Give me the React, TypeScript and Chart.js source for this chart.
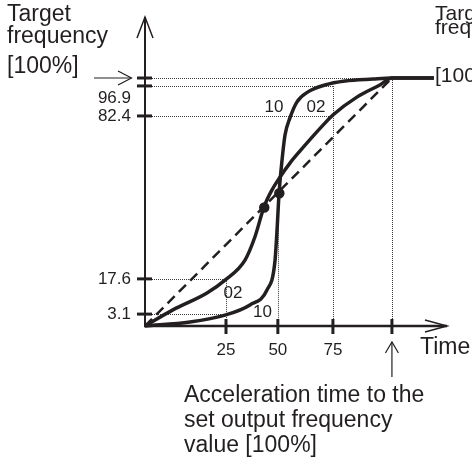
import React, { useEffect, useRef } from 'react';
import { Chart, registerables } from 'chart.js';

Chart.register(...registerables);

// ---- data (diagram coordinates: time % on x, frequency % on y) ----
const curve02X = [0, 11.3, 25.1, 32.4, 40.5, 44.5, 48.2, 51.4, 54.7, 58.7, 62.8, 72.1, 76.1, 85.8, 95.1, 100, 117];
const curve02Y = [0, 6.5, 13.3, 18.5, 26.6, 35.9, 48.0, 54.8, 60.1, 65.7, 70.6, 81.0, 85.1, 92.3, 97.2, 100, 100];

const curve10X = [0, 18.2, 32.4, 42.5, 49.4, 52.6, 53.4, 54.3, 55.1, 56.7, 58.7, 61.5, 66.0, 72.9, 81.0, 92.3, 100, 117];
const curve10Y = [0, 1.6, 4.4, 8.5, 14.5, 25.8, 37.5, 53.6, 62.9, 77.0, 83.9, 90.3, 94.4, 97.2, 98.8, 99.6, 100, 100];

const linearX = [0, 100];
const linearY = [0, 100];

const markerX = [48.3, 54.4];
const markerY = [47.8, 53.5];

const timeTicks = [32.8, 53.8, 76.1, 100];
const timeTickLabels = ['25', '50', '75', ''];

const freqTicks = [4.8, 19.0, 84.7, 96.8, 100];
const freqTickLabels = ['3.1', '17.6', '82.4', '96.9', ''];

const curveLabelText = ['10', '02', '02', '10'];
const curveLabelX = [52.2, 69.2, 35.6, 47.6];
const curveLabelY = [88.3, 88.3, 13.1, 5.6];

const X_MAX = 122.3;
const Y_MAX = 124.6;

const INK = '#231f20';
const FONT = '"Liberation Sans", Arial, Helvetica, sans-serif';

function pts(xs: number[], ys: number[]) {
  return xs.map((x, i) => ({ x, y: ys[i] }));
}

const diagramPlugin = {
  id: 'diagram',
  beforeDatasetsDraw(chart: any) {
    const ctx: CanvasRenderingContext2D = chart.ctx;
    const xs = chart.scales.x;
    const ys = chart.scales.y;
    const px = (v: number) => xs.getPixelForValue(v);
    const py = (v: number) => ys.getPixelForValue(v);
    const area = chart.chartArea;
    const x0 = px(0);
    const y0 = py(0);

    const seg = (ax: number, ay: number, bx: number, by: number) => {
      ctx.beginPath();
      ctx.moveTo(ax, ay);
      ctx.lineTo(bx, by);
      ctx.stroke();
    };

    ctx.save();
    // dotted guide lines
    ctx.strokeStyle = '#3a3a3a';
    ctx.lineWidth = 1;
    ctx.setLineDash([1, 1]);
    const h = (yv: number, xEnd: number) => {
      const y = Math.round(py(yv)) + 0.5;
      seg(x0 + 7, y, px(xEnd), y);
    };
    const v = (xv: number, yTop: number) => {
      const x = Math.round(px(xv)) + 0.5;
      seg(x, py(yTop), x, y0 - 2);
    };
    h(freqTicks[4], timeTicks[3]);
    h(freqTicks[3], timeTicks[2]);
    h(freqTicks[2], timeTicks[2]);
    h(freqTicks[1], timeTicks[0]);
    h(freqTicks[0], timeTicks[0]);
    v(timeTicks[3], freqTicks[4]);
    v(timeTicks[2], freqTicks[3]);
    v(timeTicks[1], markerY[1] - 3);
    v(timeTicks[0], freqTicks[1]);
    ctx.setLineDash([]);

    // axes
    ctx.strokeStyle = INK;
    ctx.lineWidth = 2;
    seg(x0, y0 + 1, x0, area.top);
    ctx.lineWidth = 2.5;
    seg(x0 - 1, y0, area.right, y0);

    // arrow heads on axes
    ctx.lineWidth = 1.5;
    ctx.beginPath();
    ctx.moveTo(x0 - 8, area.top + 21);
    ctx.lineTo(x0, area.top);
    ctx.lineTo(x0 + 8, area.top + 21);
    ctx.stroke();
    ctx.beginPath();
    ctx.moveTo(area.right - 22, y0 - 6);
    ctx.lineTo(area.right, y0);
    ctx.lineTo(area.right - 22, y0 + 6);
    ctx.stroke();

    // tick marks
    ctx.lineWidth = 3;
    freqTicks.forEach((t) => {
      const y = py(t);
      seg(x0 - 8, y, x0 + 7, y);
    });
    timeTicks.forEach((t) => {
      const x = px(t);
      seg(x, y0 - 7, x, y0 + 8);
    });

    // pointer arrow to 100% on the frequency axis
    ctx.lineWidth = 1.2;
    const ya = py(100);
    seg(x0 - 51, ya, x0 - 13.5, ya);
    ctx.beginPath();
    ctx.moveTo(x0 - 27, ya - 7);
    ctx.lineTo(x0 - 13.5, ya);
    ctx.lineTo(x0 - 27, ya + 7);
    ctx.stroke();

    // pointer arrow up to 100% time
    const xa = px(100);
    seg(xa, y0 + 51, xa, y0 + 16);
    ctx.beginPath();
    ctx.moveTo(xa - 6.5, y0 + 27);
    ctx.lineTo(xa, y0 + 16);
    ctx.lineTo(xa + 6.5, y0 + 27);
    ctx.stroke();
    ctx.restore();
  },
  afterDraw(chart: any) {
    const ctx: CanvasRenderingContext2D = chart.ctx;
    const xs = chart.scales.x;
    const ys = chart.scales.y;
    const px = (v: number) => xs.getPixelForValue(v);
    const py = (v: number) => ys.getPixelForValue(v);
    const area = chart.chartArea;
    const x0 = px(0);
    const y0 = py(0);

    ctx.save();
    ctx.fillStyle = INK;

    // frequency tick labels
    ctx.font = `17px ${FONT}`;
    ctx.textAlign = 'right';
    ctx.textBaseline = 'middle';
    freqTicks.forEach((t, i) => {
      const lab = freqTickLabels[i];
      if (!lab) return;
      const shift = lab === '96.9' ? 12 : 0;
      ctx.fillText(lab, x0 - 14, py(t) + shift + 0.5);
    });

    // time tick labels
    ctx.textAlign = 'center';
    timeTicks.forEach((t, i) => {
      const lab = timeTickLabels[i];
      if (!lab) return;
      ctx.fillText(lab, px(t), y0 + 24);
    });

    // curve labels
    curveLabelText.forEach((lab, i) => {
      ctx.fillText(lab, px(curveLabelX[i]), py(curveLabelY[i]));
    });

    // titles
    ctx.font = `23px ${FONT}`;
    ctx.textAlign = 'left';
    ctx.textBaseline = 'alphabetic';
    ctx.fillText('Target', 7, 21);
    ctx.fillText('frequency', 7, 42.5);
    ctx.fillText('[100%]', 7, 72.5);

    ctx.fillText('Time', area.right - 27, y0 + 28);

    ctx.fillText('Acceleration time to the', 184, 402);
    ctx.fillText('set output frequency', 184, 427);
    ctx.fillText('value [100%]', 184, 452);

    ctx.font = `21px ${FONT}`;
    ctx.fillText('Target', 435, 20);
    ctx.fillText('frequency', 435, 34);
    ctx.fillText('[100%]', 435, 82);
    ctx.restore();
  },
};

export default function App() {
  const ref = useRef<HTMLCanvasElement | null>(null);

  useEffect(() => {
    const canvas = ref.current;
    if (!canvas) return;
    const chart = new Chart(canvas, {
      type: 'line',
      data: {
        datasets: [
          {
            label: '02',
            data: pts(curve02X, curve02Y),
            borderColor: INK,
            borderWidth: 3.5,
            pointRadius: 0,
            cubicInterpolationMode: 'monotone',
            fill: false,
            clip: false,
          },
          {
            label: '10',
            data: pts(curve10X, curve10Y),
            borderColor: INK,
            borderWidth: 3.5,
            pointRadius: 0,
            cubicInterpolationMode: 'monotone',
            fill: false,
            clip: false,
          },
          {
            label: 'linear',
            data: pts(linearX, linearY),
            borderColor: INK,
            borderWidth: 2.5,
            borderDash: [10, 6],
            pointRadius: 0,
            tension: 0,
            fill: false,
            clip: false,
          },
          {
            label: 'markers',
            data: pts(markerX, markerY),
            showLine: false,
            pointRadius: 4.5,
            pointBackgroundColor: INK,
            pointBorderColor: INK,
            pointBorderWidth: 1.5,
            clip: false,
          },
        ],
      } as any,
      options: {
        responsive: false,
        animation: false,
        events: [],
        layout: { padding: { left: 145, right: 25, top: 17, bottom: 136 } },
        scales: {
          x: { type: 'linear', min: 0, max: X_MAX, display: false },
          y: { type: 'linear', min: 0, max: Y_MAX, display: false },
        },
        plugins: { legend: { display: false }, tooltip: { enabled: false } },
      } as any,
      plugins: [diagramPlugin],
    });
    return () => chart.destroy();
  }, []);

  return (
    <div style={{ position: 'absolute', left: 0, top: 0, width: 472, height: 462, background: '#fff' }}>
      <canvas ref={ref} width={472} height={462} style={{ display: 'block' }} />
    </div>
  );
}
